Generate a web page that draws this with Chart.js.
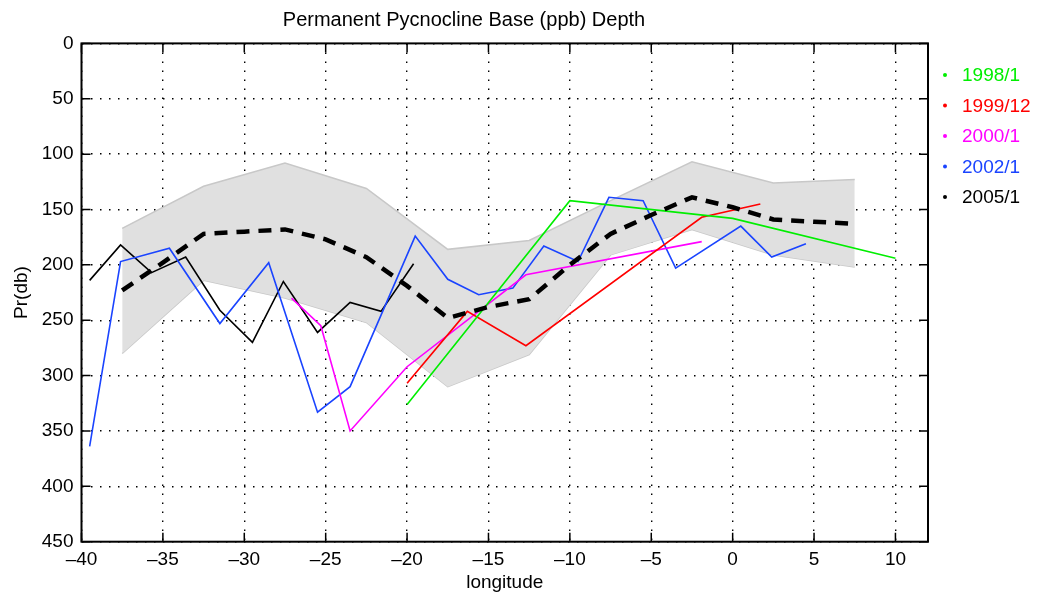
<!DOCTYPE html>
<html>
<head>
    <title>Permanent Pycnocline Base (ppb) Depth</title>
    <script src="https://cdn.jsdelivr.net/npm/chart.js"></script>
    <style>
        body { margin: 0; background: #fff; }
        canvas { display: block; }
    </style>
</head>
<body>
<canvas id="ppbChart" width="1037" height="592"></canvas>

<script>
    // values (longitude, depth in db)
    const lon1998 = [-20, -10, 0, 10];
    const pr1998 = [326, 142, 158, 194];

    const lon1999 = [-20, -16.3, -12.7, -1.9, 1.7];
    const pr1999 = [307, 242, 273, 157, 145];

    const lon2000 = [-27.1, -25.3, -23.5, -20, -12.7, -1.9];
    const pr2000 = [230, 255, 350, 292, 209, 179];

    const lon2002 = [-39.5, -37.6, -34.6, -31.5, -28.5, -25.5, -23.5, -19.5, -17.5, -15.6, -13.5, -11.6, -9.5, -7.6, -5.5, -3.5, 0.5, 2.4, 4.5];
    const pr2002 = [364, 197, 185, 253, 198, 333, 310, 174, 213, 227, 221, 183, 197, 139, 142, 203, 165, 193, 181];

    const lon2005 = [-39.5, -37.6, -35.7, -33.6, -31.5, -29.5, -27.6, -25.5, -23.5, -21.6, -19.6];
    const pr2005 = [214, 182, 207, 193, 241, 270, 215, 261, 234, 242, 199];

    const meanLon = [-37.5, -35, -32.5, -30, -27.5, -25, -22.5, -20, -17.5, -15, -12.5, -10, -7.5, -5, -2.5, 0, 2.5, 5, 7.5];
    const meanPr = [223, 198, 172, 170, 168, 177, 193, 219, 248, 238, 231, 200, 172, 155, 139, 148, 159, 161, 163];

    const bandLon = [-37.5, -32.5, -27.5, -22.5, -17.5, -12.5, -7.5, -2.5, 2.5, 7.5];
    const bandTop = [167, 129, 108, 131, 186, 178, 142, 107, 126, 123];
    const bandBottom = [280, 214, 230, 252, 310, 281, 191, 168, 191, 202];

    const xTicks = [-40, -35, -30, -25, -20, -15, -10, -5, 0, 5, 10];
    const yTicks = [0, 50, 100, 150, 200, 250, 300, 350, 400, 450];

    const FONT = '"Liberation Sans", Arial, Helvetica, sans-serif';

    function pts(xs, ys) {
        return xs.map((x, i) => ({x: x, y: ys[i]}));
    }

    function series(label, color, xs, ys) {
        return {
            label: label,
            data: pts(xs, ys),
            borderColor: color,
            backgroundColor: color,
            borderWidth: 1.6,
            pointRadius: 0,
            tension: 0,
            fill: false,
            inLegend: true
        };
    }

    let datasets = [];
    datasets.push({
        label: 'mean',
        data: pts(meanLon, meanPr),
        borderColor: '#000',
        borderWidth: 4.5,
        borderDash: [13, 9],
        pointRadius: 0,
        tension: 0,
        fill: false
    });
    datasets.push(series('1998/1', '#00ee00', lon1998, pr1998));
    datasets.push(series('1999/12', '#ff0000', lon1999, pr1999));
    datasets.push(series('2000/1', '#ff00ff', lon2000, pr2000));
    datasets.push(series('2002/1', '#1a44ff', lon2002, pr2002));
    datasets.push(series('2005/1', '#000000', lon2005, pr2005));
    datasets.push({
        label: 'band top',
        data: pts(bandLon, bandTop),
        borderColor: '#c8c8c8',
        borderWidth: 1.5,
        backgroundColor: '#e0e0e0',
        pointRadius: 0,
        tension: 0,
        fill: '+1'
    });
    datasets.push({
        label: 'band bottom',
        data: pts(bandLon, bandBottom),
        borderColor: '#c8c8c8',
        borderWidth: 1.5,
        pointRadius: 0,
        tension: 0,
        fill: false
    });

    // black box + inward tick marks, matlab style
    const framePlugin = {
        id: 'frame',
        afterDraw(chart) {
            const c = chart.ctx, a = chart.chartArea;
            const sx = chart.scales.x, sy = chart.scales.y;
            c.save();
            c.strokeStyle = '#000';
            c.lineWidth = 2;
            c.strokeRect(a.left, a.top, a.right - a.left, a.bottom - a.top);
            c.lineWidth = 1.5;
            c.beginPath();
            xTicks.forEach(v => {
                const px = sx.getPixelForValue(v);
                c.moveTo(px, a.bottom); c.lineTo(px, a.bottom - 9);
                c.moveTo(px, a.top); c.lineTo(px, a.top + 9);
            });
            yTicks.forEach(v => {
                const py = sy.getPixelForValue(v);
                c.moveTo(a.left, py); c.lineTo(a.left + 9, py);
                c.moveTo(a.right, py); c.lineTo(a.right - 9, py);
            });
            c.stroke();
            c.restore();
        }
    };

    const legendPlugin = {
        id: 'sideLegend',
        afterDraw(chart) {
            const c = chart.ctx;
            let y = 75;
            c.save();
            c.font = '19px ' + FONT;
            c.textBaseline = 'middle';
            chart.data.datasets.filter(d => d.inLegend).forEach(d => {
                c.fillStyle = d.borderColor;
                c.beginPath();
                c.arc(945, y, 2, 0, Math.PI * 2);
                c.fill();
                c.fillText(d.label, 962, y + 1);
                y += 30.5;
            });
            c.restore();
        }
    };

    let ctx = document.getElementById('ppbChart').getContext('2d');

    let chart = new Chart(ctx, {
        type: 'line',
        data: {datasets: datasets},
        plugins: [framePlugin, legendPlugin],
        options: {
            responsive: false,
            animation: false,
            layout: {padding: {top: 0, right: 109, bottom: 0, left: 0}},
            plugins: {
                legend: {display: false},
                tooltip: {enabled: false},
                title: {
                    display: true,
                    text: 'Permanent Pycnocline Base (ppb) Depth',
                    color: '#000',
                    font: {family: FONT, size: 20, weight: 'normal'},
                    padding: {top: 8, bottom: 11.4}
                }
            },
            scales: {
                x: {
                    type: 'linear',
                    min: -40,
                    max: 12,
                    afterBuildTicks: s => { s.ticks = xTicks.map(v => ({value: v})); },
                    afterFit: s => { s.height = 50.3; },
                    ticks: {
                        color: '#000',
                        font: {family: FONT, size: 19},
                        padding: 7,
                        maxRotation: 0,
                        autoSkip: false,
                        callback: v => v < 0 ? '\u2013' + Math.abs(v) : String(v)
                    },
                    grid: {color: '#000', lineWidth: 1.4, drawTicks: false},
                    border: {display: false, dash: [1.5, 7.5]},
                    title: {
                        display: true,
                        text: 'longitude',
                        color: '#000',
                        font: {family: FONT, size: 19, lineHeight: 1},
                        padding: {top: 0, bottom: 0}
                    }
                },
                y: {
                    type: 'linear',
                    reverse: true,
                    min: 0,
                    max: 450,
                    afterBuildTicks: s => { s.ticks = yTicks.map(v => ({value: v})); },
                    afterFit: s => { s.width = 81.5; },
                    ticks: {
                        color: '#000',
                        font: {family: FONT, size: 19},
                        padding: 8
                    },
                    grid: {color: '#000', lineWidth: 1.4, drawTicks: false},
                    border: {display: false, dash: [1.5, 7.5]},
                    title: {
                        display: true,
                        text: 'Pr(db)',
                        color: '#000',
                        font: {family: FONT, size: 19},
                        padding: {top: 10, bottom: 0}
                    }
                }
            }
        }
    });
</script>
</body>
</html>
